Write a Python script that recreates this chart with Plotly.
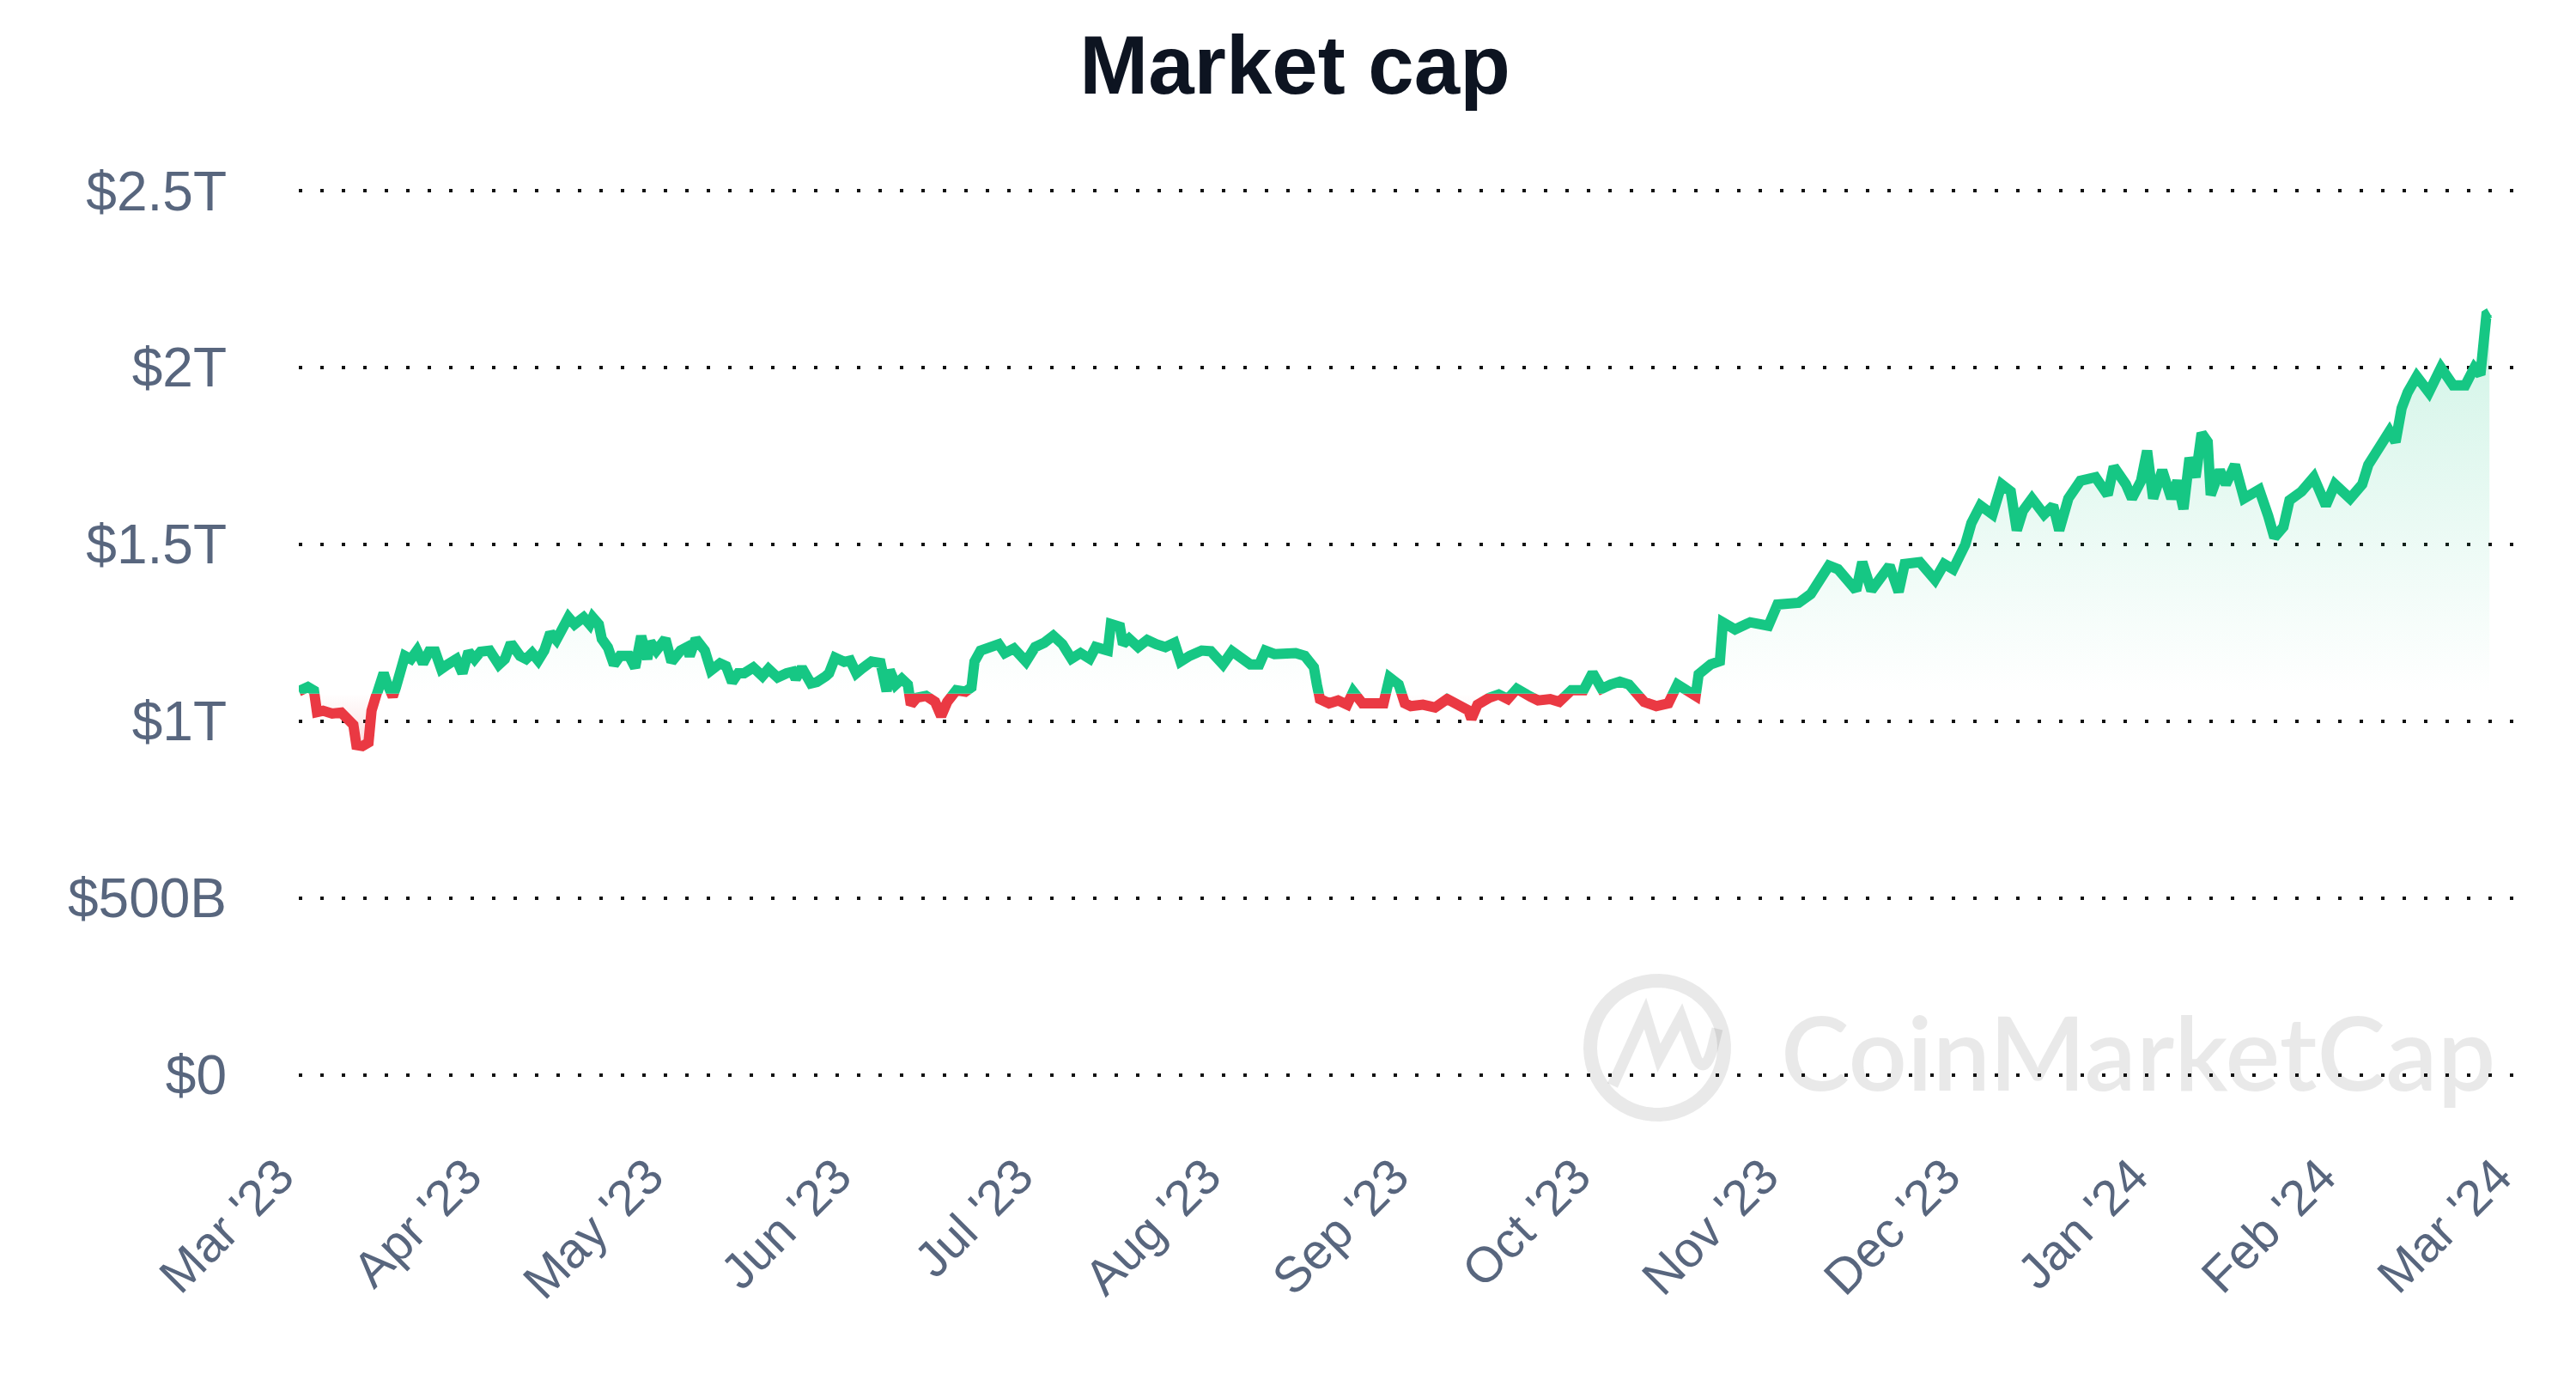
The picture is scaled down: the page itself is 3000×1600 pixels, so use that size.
import math
import plotly.graph_objects as go

# ---------------- data (total market cap, trillions USD) ----------------
dates = [
    "2023-03-01", "2023-03-01 12:00", "2023-03-02 12:00", "2023-03-03 12:00", "2023-03-04",
    "2023-03-05", "2023-03-06 12:00", "2023-03-08", "2023-03-08 12:00", "2023-03-10",
    "2023-03-10 12:00", "2023-03-11 12:00", "2023-03-12 12:00", "2023-03-13", "2023-03-14",
    "2023-03-15", "2023-03-15 12:00", "2023-03-16 12:00", "2023-03-17", "2023-03-18",
    "2023-03-18 12:00", "2023-03-19 12:00", "2023-03-20 12:00", "2023-03-21 12:00",
    "2023-03-22 12:00", "2023-03-23 12:00", "2023-03-24", "2023-03-24 12:00",
    "2023-03-25 12:00", "2023-03-27", "2023-03-28", "2023-03-29", "2023-03-30", "2023-03-31",
    "2023-04-01 12:00", "2023-04-03", "2023-04-04", "2023-04-05", "2023-04-06 12:00",
    "2023-04-07 12:00", "2023-04-08 12:00", "2023-04-09 12:00", "2023-04-10 12:00",
    "2023-04-11 12:00", "2023-04-12 12:00", "2023-04-13 12:00", "2023-04-14 12:00",
    "2023-04-15 12:00", "2023-04-17", "2023-04-18", "2023-04-18 12:00", "2023-04-19 12:00",
    "2023-04-20", "2023-04-21", "2023-04-22", "2023-04-23", "2023-04-24 12:00",
    "2023-04-25 12:00", "2023-04-26 12:00", "2023-04-27 12:00", "2023-04-28", "2023-04-29",
    "2023-04-30 12:00", "2023-05-01 12:00", "2023-05-03", "2023-05-04", "2023-05-04 12:00",
    "2023-05-05 12:00", "2023-05-07", "2023-05-08", "2023-05-09 12:00", "2023-05-10 12:00",
    "2023-05-11 12:00", "2023-05-12 12:00", "2023-05-13 12:00", "2023-05-15",
    "2023-05-16 12:00", "2023-05-17 12:00", "2023-05-19", "2023-05-20 12:00",
    "2023-05-21 12:00", "2023-05-22", "2023-05-23", "2023-05-24 12:00", "2023-05-25 12:00",
    "2023-05-27", "2023-05-27 12:00", "2023-05-28 12:00", "2023-05-30", "2023-05-31",
    "2023-06-01", "2023-06-02", "2023-06-03 12:00", "2023-06-05", "2023-06-06",
    "2023-06-06 12:00", "2023-06-07 12:00", "2023-06-08 12:00", "2023-06-09 12:00",
    "2023-06-10", "2023-06-11", "2023-06-12 12:00", "2023-06-14", "2023-06-15", "2023-06-16",
    "2023-06-17 12:00", "2023-06-19", "2023-06-20", "2023-06-20 12:00", "2023-06-21 12:00",
    "2023-06-23", "2023-06-24 12:00", "2023-06-25 12:00", "2023-06-27", "2023-06-29",
    "2023-06-30 12:00", "2023-07-02", "2023-07-03 12:00", "2023-07-05", "2023-07-06 12:00",
    "2023-07-08", "2023-07-09 12:00", "2023-07-10 12:00", "2023-07-12 12:00", "2023-07-13",
    "2023-07-14 12:00", "2023-07-15", "2023-07-16", "2023-07-17 12:00", "2023-07-19",
    "2023-07-20 12:00", "2023-07-22", "2023-07-23 12:00", "2023-07-24 12:00", "2023-07-26",
    "2023-07-28", "2023-07-29 12:00", "2023-07-31 12:00", "2023-08-02", "2023-08-03 12:00",
    "2023-08-05", "2023-08-06 12:00", "2023-08-07 12:00", "2023-08-09", "2023-08-11",
    "2023-08-12 12:00", "2023-08-14", "2023-08-15 12:00", "2023-08-16", "2023-08-16 12:00",
    "2023-08-18", "2023-08-19 12:00", "2023-08-21", "2023-08-22", "2023-08-23 12:00",
    "2023-08-25 12:00", "2023-08-27", "2023-08-28", "2023-08-29 12:00", "2023-08-30 12:00",
    "2023-08-31 12:00", "2023-09-02 12:00", "2023-09-04 12:00", "2023-09-06 12:00",
    "2023-09-08", "2023-09-10", "2023-09-10 12:00", "2023-09-11 12:00", "2023-09-13 12:00",
    "2023-09-15", "2023-09-16 12:00", "2023-09-18", "2023-09-20", "2023-09-21 12:00",
    "2023-09-23 12:00", "2023-09-25", "2023-09-27", "2023-09-29", "2023-09-30 12:00",
    "2023-10-02", "2023-10-03 12:00", "2023-10-05", "2023-10-06 12:00", "2023-10-07 12:00",
    "2023-10-09", "2023-10-11", "2023-10-13", "2023-10-14 12:00", "2023-10-16",
    "2023-10-17 12:00", "2023-10-18", "2023-10-20", "2023-10-21 12:00", "2023-10-22",
    "2023-10-24", "2023-10-26 12:00", "2023-10-29 12:00", "2023-10-31", "2023-11-03 12:00",
    "2023-11-05 12:00", "2023-11-08 12:00", "2023-11-10", "2023-11-13", "2023-11-14",
    "2023-11-15 12:00", "2023-11-18 12:00", "2023-11-20", "2023-11-21", "2023-11-23 12:00",
    "2023-11-26", "2023-11-27 12:00", "2023-11-29", "2023-12-01", "2023-12-02",
    "2023-12-03 12:00", "2023-12-05 12:00", "2023-12-07", "2023-12-08 12:00",
    "2023-12-09 12:00", "2023-12-10 12:00", "2023-12-12", "2023-12-14", "2023-12-15 12:00",
    "2023-12-16 12:00", "2023-12-18", "2023-12-20", "2023-12-22 12:00", "2023-12-24 12:00",
    "2023-12-25 12:00", "2023-12-27 12:00", "2023-12-28 12:00", "2023-12-30", "2023-12-31",
    "2024-01-01", "2024-01-02 12:00", "2024-01-04", "2024-01-05", "2024-01-06", "2024-01-07",
    "2024-01-08", "2024-01-09", "2024-01-10", "2024-01-10 12:00", "2024-01-12", "2024-01-13",
    "2024-01-14 12:00", "2024-01-16", "2024-01-18 12:00", "2024-01-20", "2024-01-21",
    "2024-01-22 12:00", "2024-01-23 12:00", "2024-01-25 12:00", "2024-01-27 12:00",
    "2024-01-29 12:00", "2024-01-31", "2024-02-02 12:00", "2024-02-04 12:00",
    "2024-02-05 12:00", "2024-02-07 12:00", "2024-02-09", "2024-02-10", "2024-02-11",
    "2024-02-12", "2024-02-13 12:00", "2024-02-15 12:00", "2024-02-17 12:00",
    "2024-02-19 12:00", "2024-02-21 12:00", "2024-02-23", "2024-02-24", "2024-02-25",
    "2024-02-25 12:00",
]

market_cap_t = [
    1.085, 1.09, 1.097, 1.087, 1.026, 1.03,
    1.022, 1.025, 1.014, 0.99, 0.933,
    0.93, 0.94, 1.03, 1.087, 1.136,
    1.11, 1.07, 1.095, 1.152, 1.185,
    1.176, 1.2, 1.164, 1.197,
    1.197, 1.176, 1.148, 1.16, 1.176,
    1.136, 1.197, 1.176, 1.197, 1.2, 1.16,
    1.176, 1.221, 1.185, 1.176, 1.193,
    1.172, 1.2, 1.25, 1.23,
    1.266, 1.294, 1.274, 1.294, 1.274,
    1.294, 1.274, 1.233, 1.209, 1.16,
    1.185, 1.185, 1.152, 1.241,
    1.176, 1.225, 1.2, 1.233, 1.168,
    1.2, 1.209, 1.185, 1.233, 1.2,
    1.144, 1.164, 1.156, 1.111,
    1.136, 1.136, 1.152, 1.128,
    1.148, 1.124, 1.136, 1.14, 1.12,
    1.152, 1.107, 1.111, 1.128, 1.136,
    1.18, 1.168, 1.172, 1.136, 1.15,
    1.169, 1.165, 1.085, 1.145, 1.104,
    1.12, 1.104, 1.047, 1.067, 1.072,
    1.055, 1.015, 1.055, 1.088,
    1.084, 1.096, 1.169, 1.2, 1.21,
    1.218, 1.193, 1.206, 1.169, 1.21,
    1.222, 1.242, 1.218, 1.177, 1.193,
    1.177, 1.21, 1.2, 1.275,
    1.267, 1.218, 1.234, 1.21, 1.23,
    1.218, 1.21, 1.222, 1.169, 1.185,
    1.2, 1.198, 1.161, 1.198, 1.177,
    1.161, 1.161, 1.2, 1.19, 1.19,
    1.193, 1.185, 1.153, 1.104, 1.063,
    1.051, 1.059, 1.047, 1.084, 1.051,
    1.047, 1.051, 1.124, 1.104, 1.051,
    1.043, 1.047, 1.039, 1.063, 1.047,
    1.031, 1.007, 1.047, 1.067, 1.076,
    1.063, 1.092, 1.072, 1.059, 1.063,
    1.055, 1.088, 1.088, 1.137,
    1.092, 1.104, 1.112, 1.104,
    1.088, 1.055, 1.043, 1.051, 1.104,
    1.092, 1.072, 1.133, 1.161, 1.17,
    1.28, 1.26, 1.28, 1.27, 1.33,
    1.335, 1.36, 1.44, 1.43, 1.37,
    1.45, 1.37, 1.44, 1.366, 1.445,
    1.45, 1.40, 1.445, 1.43, 1.5,
    1.56, 1.61, 1.585, 1.67, 1.65,
    1.54, 1.595, 1.63, 1.585, 1.61,
    1.54, 1.63, 1.68, 1.69, 1.64,
    1.72, 1.67, 1.63, 1.68, 1.765,
    1.63, 1.71, 1.63, 1.68,
    1.60, 1.745, 1.69, 1.815,
    1.79, 1.64, 1.71, 1.67, 1.725,
    1.63, 1.655, 1.58, 1.52, 1.55,
    1.625, 1.65, 1.69, 1.61,
    1.67, 1.63, 1.67, 1.725, 1.78,
    1.82, 1.79, 1.885, 1.93,
    1.975, 1.93, 2.0, 1.95, 1.95, 2.0,
    1.98, 2.15, 2.155,
]

baseline_t = 1.078  # reference (opening) value that splits green/red

y_ticks_low = [0, 0.5, 1.0]
y_labels_low = ["$0", "$500B", "$1T"]
y_ticks_high = [1.5, 2.0, 2.5]
y_labels_high = ["$1.5T", "$2T", "$2.5T"]

x_range = ["2023-03-01", "2024-03-01"]

# ---------------- styling ----------------
GREEN = "#16c784"
RED = "#ea3943"
LABEL = "#58667e"
FONT = "Liberation Sans, Arial, Helvetica, sans-serif"
T = 1e12

values = [v * T for v in market_cap_t]
base = baseline_t * T
Y0, Y1 = -0.01 * T, 2.51 * T
split = (base - Y0) / (Y1 - Y0)

fig = go.Figure()

# red part (below baseline) on lower axis, clipped at the baseline
fig.add_trace(go.Scatter(
    x=dates, y=[base] * len(dates), xaxis="x", yaxis="y",
    mode="lines", line=dict(width=0, color="rgba(0,0,0,0)"),
    hoverinfo="skip", showlegend=False,
))
fig.add_trace(go.Scatter(
    x=dates, y=values, xaxis="x", yaxis="y",
    mode="lines", line=dict(color=RED, width=12),
    fill="tonexty",
    fillgradient=dict(type="vertical",
                      colorscale=[[0, "rgba(234,57,67,0.16)"], [1, "rgba(234,57,67,0)"]],
                      start=min(values), stop=base),
    showlegend=False,
))
# green part (above baseline) on upper axis, clipped at the baseline
fig.add_trace(go.Scatter(
    x=dates, y=values, xaxis="x", yaxis="y2",
    mode="lines", line=dict(color=GREEN, width=12),
    fill="tozeroy",
    fillgradient=dict(type="vertical",
                      colorscale=[[0, "rgba(22,199,132,0)"], [1, "rgba(22,199,132,0.2)"]],
                      start=base, stop=max(values)),
    showlegend=False,
))

grid = dict(showgrid=True, gridcolor="#111111", gridwidth=4, griddash="4px,21px",
            zeroline=False, showline=False, ticks="", ticklabelstandoff=83,
            tickfont=dict(family=FONT, size=64, color=LABEL))

fig.update_layout(
    width=3000, height=1600,
    paper_bgcolor="white", plot_bgcolor="white",
    margin=dict(l=340, r=77, t=210, b=352),
    title=dict(text="Market cap", x=0.5, xref="container", xanchor="center",
               y=1 - 67 / 1600, yref="container", yanchor="middle",
               font=dict(family=FONT, size=96, color="#0d1421", weight=700)),
    xaxis=dict(type="date", range=x_range, anchor="y", showgrid=False, zeroline=False,
               showline=False, ticks="", tick0="2023-03-01", dtick="M1",
               tickformat="%b '%y", tickangle=-45, ticklabelstandoff=67,
               ticklabelshift=-23,
               tickfont=dict(family=FONT, size=58, color=LABEL)),
    yaxis=dict(domain=[0, split], range=[Y0, base], tickvals=[v * T for v in y_ticks_low],
               ticktext=y_labels_low, anchor="x", **grid),
    yaxis2=dict(domain=[split, 1], range=[base, Y1], tickvals=[v * T for v in y_ticks_high],
                ticktext=y_labels_high, anchor="x", **grid),
)

# ---------------- watermark ----------------
PW, PH, PL, PB = 2583, 1038, 340, 1248
cx, cy = 1922, 1212
ax = (cx - PL) / PW
ay = (PB - cy) / PH
WM = "rgba(0,0,0,0.085)"

r = 78
pts = []
a0, a1 = -50, 345
n = 60
for i in range(n + 1):
    a = math.radians(a0 + (a1 - a0) * i / n)
    pts.append((r * math.cos(a), r * math.sin(a)))
ring = "M " + " L ".join(f"{x:.1f},{y:.1f}" for x, y in pts)
fig.add_shape(type="path", xref="paper", yref="paper", xsizemode="pixel", ysizemode="pixel",
              xanchor=ax, yanchor=ay, path=ring, line=dict(color=WM, width=16),
              layer="below")
m_path = "M -52,-44 L -14,40 L 2,-12 L 28,36 L 46,-14 Q 56,-30 64,-2 L 70,22"
fig.add_shape(type="path", xref="paper", yref="paper", xsizemode="pixel", ysizemode="pixel",
              xanchor=ax, yanchor=ay, path=m_path, line=dict(color=WM, width=13),
              layer="below")
fig.add_annotation(text="CoinMarketCap", xref="paper", yref="paper",
                   x=(2064 - PL) / PW, xanchor="left", y=(PB - 1216) / PH, yanchor="middle",
                   showarrow=False,
                   font=dict(family="Lato, Inter, sans-serif", size=120, color=WM, weight=600))

fig.write_html("out.html")
